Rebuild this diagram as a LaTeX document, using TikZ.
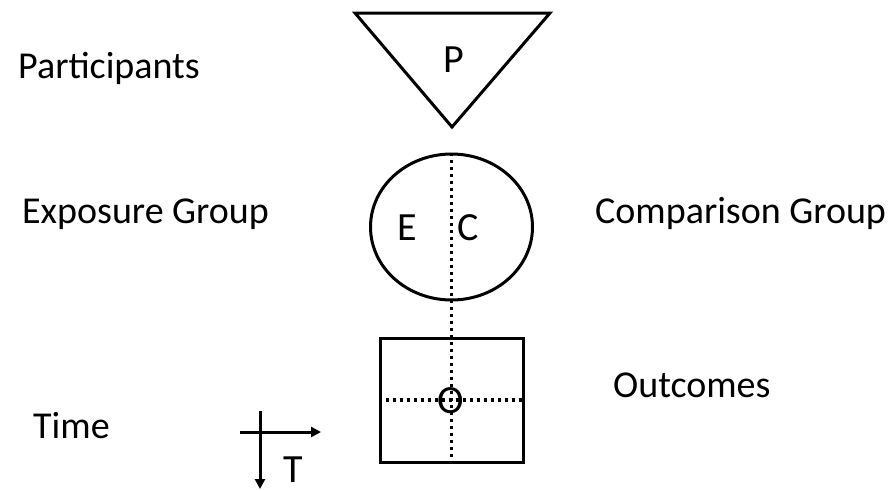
\documentclass[tikz,border=0pt]{standalone}
\usepackage{fontspec}
\setmainfont{Carlito}
\usetikzlibrary{arrows.meta,shapes.geometric}
\begin{document}
\begin{tikzpicture}[x=1pt,y=-1pt,
  lbl/.style={anchor=base west,inner sep=0pt,font=\fontsize{38}{40}\selectfont},
  let/.style={anchor=base west,inner sep=0pt,font=\fontsize{40}{42}\selectfont},
  shp/.style={draw=black,line width=3pt},
  dot/.style={line width=3.4pt,dash pattern=on 3pt off 4pt},
  axis/.style={line width=3pt,-{Triangle[length=10pt,width=10pt]}}]
\useasboundingbox (0,0) rectangle (891,490);
% triangle
\draw[shp,line join=miter] (355,13) -- (550,13) -- (452,127) -- cycle;
\node[let] (P) at (443,72) {P};
% ellipse
\node[shp,ellipse,minimum width=162pt,minimum height=146pt,inner sep=0pt] (grp) at (451.5,227) {};
\node[let] (E) at (397,240) {E};
\node[let] (C) at (457,240) {C};
% outcomes box
\node[shp,rectangle,minimum width=143pt,minimum height=124pt,inner sep=0pt] (box) at (451.5,400) {};
\draw[dot] (grp.north) -- (box.south);
\draw[dot] (box.west) -- (box.east);
\node[let] (O) at (437,413) {O};
% labels
\node[lbl] (lp) at (18,78) {Participants};
\node[lbl] (le) at (22,223) {Exposure Group};
\node[lbl] (lc) at (595,223) {Comparison Group};
\node[lbl] (lo) at (613,397) {Outcomes};
\node[lbl] (lt) at (33,438) {Time};
% time axes
\coordinate (h0) at (240,432);
\coordinate (h1) at (321,432);
\coordinate (v0) at (260,411);
\coordinate (v1) at (260,489);
\draw[axis] (h0) -- (h1);
\draw[axis] (v0) -- (v1);
\node[let] (T) at (283,482) {T};
\end{tikzpicture}
\end{document}
